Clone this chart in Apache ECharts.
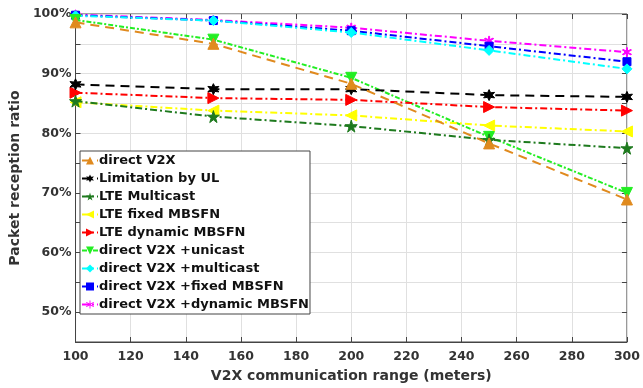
<!DOCTYPE html>
<html><head><meta charset="utf-8">
<script src="https://cdn.jsdelivr.net/npm/echarts@6/dist/echarts.min.js"></script>
<style>html,body{margin:0;padding:0;background:#fff}#c{width:643px;height:388px}</style>
</head><body><div id="c"></div>
<script>
const ranges = [100, 150, 200, 250, 300];
const xTicks = [100,120,140,160,180,200,220,240,260,280,300];
const yTicks = [50,60,70,80,90,100];
const names = ['direct V2X','Limitation by UL','LTE Multicast','LTE fixed MBSFN','LTE dynamic MBSFN','direct V2X +unicast','direct V2X +multicast','direct V2X +fixed MBSFN','direct V2X +dynamic MBSFN'];
const directV2X      = [98.6, 95.0, 88.3, 78.3, 68.9];
const limitationUL   = [88.2, 87.4, 87.4, 86.4, 86.1];
const lteMulticast   = [85.4, 82.8, 81.2, 78.9, 77.5];
const lteFixed       = [85.2, 83.8, 83.0, 81.3, 80.3];
const lteDynamic     = [86.8, 85.9, 85.6, 84.4, 83.8];
const v2xUnicast     = [99.0, 95.7, 89.3, 79.4, 70.0];
const v2xMulticast   = [99.7, 98.9, 96.9, 93.9, 90.8];
const v2xFixed       = [99.8, 98.9, 97.2, 94.6, 92.0];
const v2xDynamic     = [99.9, 99.0, 97.7, 95.5, 93.6];
const values = [directV2X, limitationUL, lteMulticast, lteFixed, lteDynamic, v2xUnicast, v2xMulticast, v2xFixed, v2xDynamic];
const colors = ['#e08a1e','#000000','#1e7a1e','#ffff00','#ff0000','#22ee22','#00ffff','#0000ff','#ff00ff'];
const star5 = 'path://M50,0 L61,35 L98,35 L68,57 L79,91 L50,70 L21,91 L32,57 L2,35 L39,35 Z';
const star6 = 'path://M50,0 L62,29 L93,25 L74,50 L93,75 L62,71 L50,100 L38,71 L7,75 L26,50 L7,25 L38,29 Z';
const asterisk = 'path://M45,0 L55,0 L55,38 L88,19 L93,28 L60,47 L60,53 L93,72 L88,81 L55,62 L55,100 L45,100 L45,62 L12,81 L7,72 L40,53 L40,47 L7,28 L12,19 L45,38 Z';
const symbols = ['triangle', star6, star5, 'triangle', 'triangle', 'triangle', 'diamond', 'rect', asterisk];
const rotates = [0, 0, 0, 90, -90, 180, 0, 0, 0];
const sizes = [11, 11, 12, 11, 11, 11, 10, 8, 9];
const dashDot = [7,3,2,3];
const dashes = [[9,6],[9,6],dashDot,dashDot,dashDot,[5,2,2,2],dashDot,dashDot,dashDot];
const series = names.map((n,i)=>({
  name:n, type:'line', data: ranges.map((x,j)=>[x, values[i][j]]),
  symbol: symbols[i], symbolRotate: rotates[i], symbolSize: sizes[i],
  itemStyle:{color:colors[i], borderColor: colors[i]},
  lineStyle:{color:colors[i], width:2, type:dashes[i]},
  z: 10-i
}));
const font = '"DejaVu Sans", Verdana, sans-serif';
const chart = echarts.init(document.getElementById('c'), null, {renderer:'canvas'});
chart.setOption({
  animation:false,
  backgroundColor:'#fff',
  grid:{left:70, right:14, top:14, bottom:44, show:true, borderColor:'#444', borderWidth:1, backgroundColor:'#fff'},
  xAxis:[{
    type:'value', min:100, max:300, interval:20,
    name:'V2X communication range (meters)', nameLocation:'middle', nameGap:27,
    nameTextStyle:{fontFamily:font, fontWeight:'bold', fontSize:14, color:'#333'},
    axisLine:{lineStyle:{color:'#444'}},
    axisTick:{inside:true, length:5, lineStyle:{color:'#444'}},
    axisLabel:{fontFamily:font, fontWeight:'bold', fontSize:12.5, color:'#333', margin:8,
      formatter:v=>xTicks.includes(v)?String(v):''},
    splitLine:{show:true, lineStyle:{color:'#e0e0e0', width:1}}
  },{
    type:'value', min:100, max:300, interval:20, position:'top',
    axisLine:{show:false}, axisTick:{inside:true,length:5,lineStyle:{color:'#444'}},
    axisLabel:{show:false}, splitLine:{show:false}
  }],
  yAxis:[{
    type:'value', min:45, max:100, interval:5,
    name:'Packet reception ratio', nameLocation:'middle', nameGap:53,
    nameTextStyle:{fontFamily:font, fontWeight:'bold', fontSize:14, color:'#333'},
    axisLine:{lineStyle:{color:'#444'}},
    axisTick:{inside:true, length:5, lineStyle:{color:'#444'}},
    axisLabel:{fontFamily:font, fontWeight:'bold', fontSize:12.5, color:'#333', margin:4,
      formatter:v=>yTicks.includes(v)?v+'%':''},
    splitLine:{show:true, lineStyle:{color:'#e0e0e0', width:1}}
  },{
    type:'value', min:45, max:100, interval:5, position:'right',
    axisLine:{show:false}, axisTick:{inside:true,length:5,lineStyle:{color:'#444'}},
    axisLabel:{show:false}, splitLine:{show:false}
  }],
  legend:{
    data:names, orient:'vertical', left:80, top:151, width:228,
    backgroundColor:'#fff', borderColor:'#444', borderWidth:1,
    padding:[2,1,2,1], itemGap:3, itemWidth:16, itemHeight:10,
    textStyle:{fontFamily:font, fontWeight:'bold', fontSize:13, lineHeight:15, color:'#111', padding:[0,0,0,-4]},
    z:20
  },
  series: series
});
</script></body></html>
